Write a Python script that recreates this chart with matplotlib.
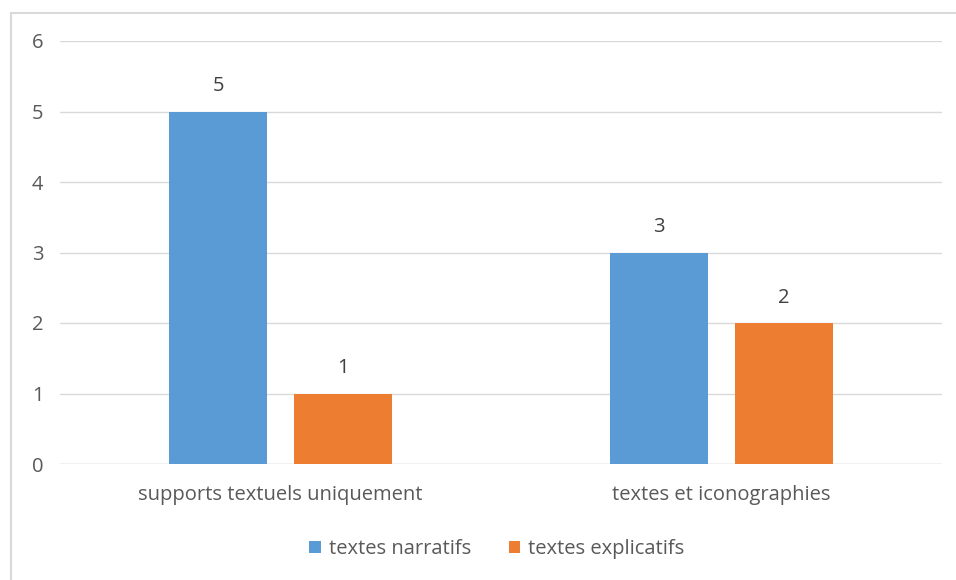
import matplotlib.pyplot as plt
import numpy as np
from matplotlib.patches import Rectangle

categories = ['supports textuels uniquement', 'textes et iconographies']
narratifs = [5, 3]
explicatifs = [1, 2]

plt.rcParams['font.family'] = ['Open Sans', 'DejaVu Sans']
text_color = '#595959'
fs = 14.5

fig = plt.figure(figsize=(9.56, 5.8), dpi=100)
ax = fig.add_axes([60 / 956, 1 - 464 / 580, 882 / 956, 423 / 580])

x = np.arange(len(categories))
w = 0.222
off = 0.141
b1 = ax.bar(x - off, narratifs, w, color='#5B9BD5', label='textes narratifs', zorder=3)
b2 = ax.bar(x + off, explicatifs, w, color='#ED7D31', label='textes explicatifs', zorder=3)
for bars in (b1, b2):
    ax.bar_label(bars, padding=11, fontsize=fs, color='#404040')

ax.set_xlim(-0.5, 1.5)
ax.set_ylim(0, 6)
ax.set_yticks(range(7))
ax.set_xticks(x)
ax.set_xticklabels(categories)
ax.tick_params(length=0, labelsize=fs, colors=text_color)
ax.tick_params(axis='y', pad=12)
ax.tick_params(axis='x', pad=15)
ax.grid(axis='y', color='#D9D9D9', lw=1, zorder=0)
for s in ax.spines.values():
    s.set_visible(False)
ax.axhline(0, color='#D9D9D9', lw=1, zorder=2)

fig.legend(loc='center', bbox_to_anchor=(497 / 956, 1 - 549 / 580), ncol=2, frameon=False,
           fontsize=fs, labelcolor=text_color, handlelength=0.55, handleheight=0.55,
           columnspacing=1.9, handletextpad=0.4)

# light frame around the chart area
fig.patches.append(Rectangle((11 / 956, -0.05), 1.1, 1 - 13 / 580 + 0.05,
                             transform=fig.transFigure, fill=False,
                             edgecolor='#D9D9D9', lw=1.5))

fig.savefig('out.png', dpi=100)
